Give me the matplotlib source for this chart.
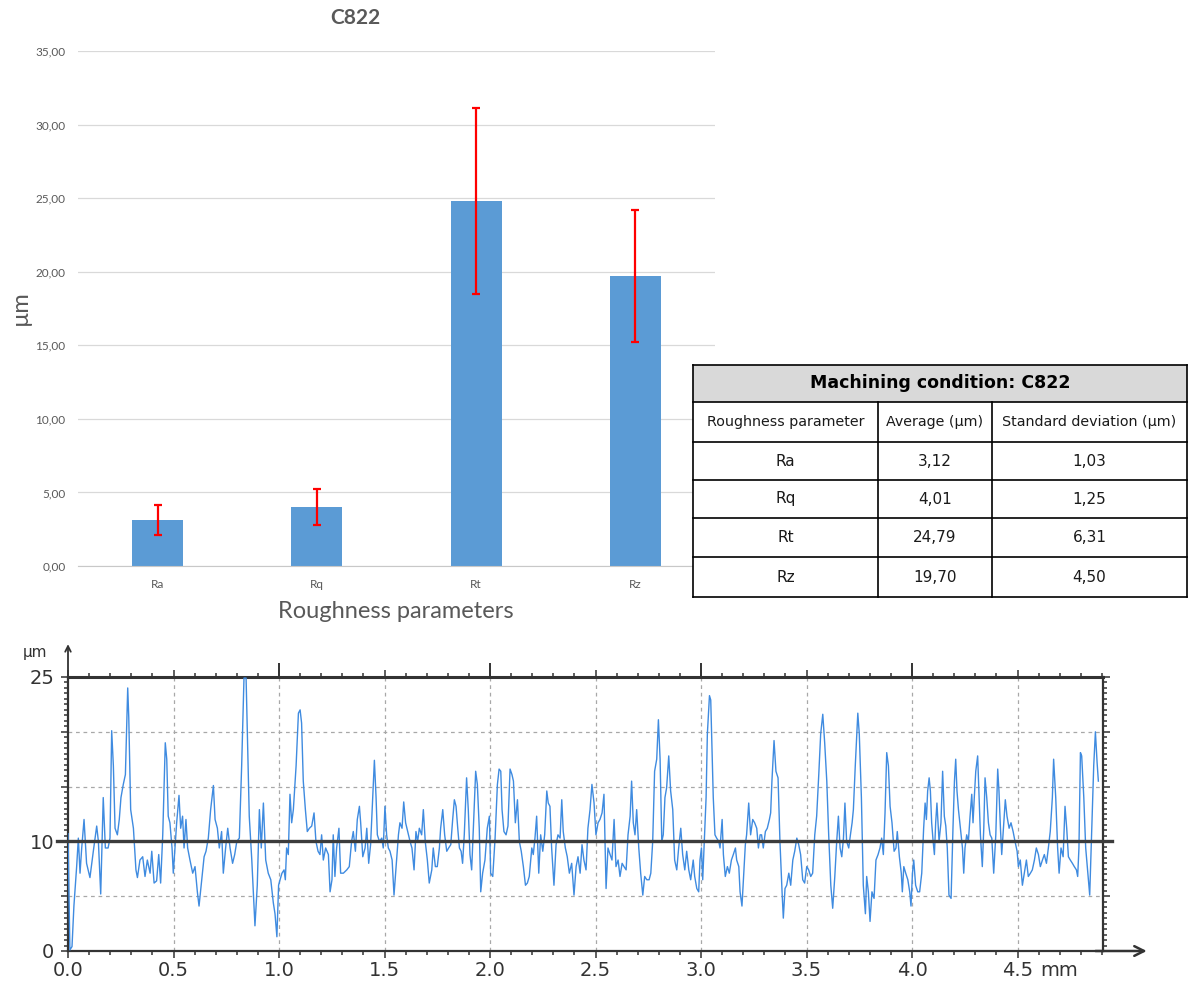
import numpy as np
import matplotlib
matplotlib.use('Agg')
from matplotlib import pyplot as plt
from matplotlib.patches import Rectangle
from matplotlib.ticker import MultipleLocator, FixedLocator, FixedFormatter

# summary statistics, machining condition C822
params = ['Ra', 'Rq', 'Rt', 'Rz']
avg_um = [3.12, 4.01, 24.79, 19.70]
std_um = [1.03, 1.25, 6.31, 4.50]
condition = 'C822'

# roughness profile, (mm, um), split by 1 mm stretches
prof_0 = [(0.0, 10.7), (0.009, 0.1), (0.019, 0.4), (0.028, 4.1), (0.041, 7.7), (0.049, 10.3),
          (0.057, 7.1), (0.065, 9.4), (0.076, 12.0), (0.088, 8.0), (0.104, 6.7), (0.120, 9.1),
          (0.136, 11.4), (0.144, 10.0), (0.155, 5.2), (0.167, 14.0), (0.177, 9.4), (0.190, 9.4),
          (0.199, 10.3), (0.207, 20.1), (0.215, 16.9), (0.223, 11.2), (0.234, 10.6), (0.243, 12.0),
          (0.251, 14.0), (0.262, 15.2), (0.272, 16.1), (0.283, 24.0), (0.288, 21.3), (0.297, 12.9),
          (0.310, 11.2), (0.322, 7.4), (0.329, 6.7), (0.341, 8.3), (0.354, 8.6), (0.365, 6.8),
          (0.376, 8.3), (0.389, 7.1), (0.397, 9.1), (0.408, 6.2), (0.420, 6.4), (0.430, 8.8),
          (0.439, 6.2), (0.449, 10.6), (0.461, 19.0), (0.468, 17.5), (0.475, 12.3), (0.483, 11.7),
          (0.493, 9.4), (0.499, 7.1), (0.507, 9.4), (0.515, 11.7), (0.526, 14.2), (0.534, 11.2),
          (0.543, 12.3), (0.550, 9.4), (0.559, 12.0), (0.567, 9.4), (0.578, 8.3), (0.591, 7.1),
          (0.602, 7.7), (0.613, 5.4), (0.621, 4.1), (0.634, 6.5), (0.645, 8.6), (0.654, 9.1),
          (0.665, 10.3), (0.676, 12.9), (0.689, 15.1), (0.697, 12.0), (0.708, 11.2), (0.717, 9.4),
          (0.728, 10.9), (0.736, 7.1), (0.747, 9.4), (0.757, 11.2), (0.768, 9.4), (0.780, 8.0),
          (0.790, 8.8), (0.800, 10.0), (0.812, 10.3), (0.823, 16.9), (0.834, 24.9), (0.844, 24.9),
          (0.850, 19.8), (0.859, 12.3), (0.871, 8.3), (0.878, 5.4), (0.886, 2.3), (0.897, 6.0),
          (0.907, 12.9), (0.916, 9.4), (0.926, 13.5), (0.937, 8.3), (0.949, 7.1), (0.961, 6.5),
          (0.973, 4.4), (0.981, 3.4), (0.990, 1.3), (0.998, 6.0)]
prof_1 = [(1.005, 6.5), (1.014, 7.1), (1.024, 7.4), (1.030, 6.5), (1.036, 9.4), (1.044, 8.8),
          (1.052, 14.3), (1.060, 11.7), (1.068, 12.9), (1.081, 16.9), (1.092, 21.7), (1.100, 22.0),
          (1.107, 20.8), (1.115, 15.5), (1.125, 12.9), (1.134, 10.9), (1.144, 11.2), (1.155, 11.4),
          (1.166, 12.6), (1.175, 10.0), (1.185, 9.1), (1.194, 8.8), (1.202, 10.6), (1.210, 8.3),
          (1.221, 9.4), (1.234, 8.8), (1.242, 5.4), (1.251, 6.5), (1.257, 10.6), (1.265, 6.8),
          (1.273, 9.4), (1.284, 11.2), (1.292, 7.1), (1.305, 7.1), (1.321, 7.4), (1.333, 7.7),
          (1.344, 10.0), (1.352, 10.9), (1.362, 9.1), (1.371, 12.0), (1.381, 13.2), (1.387, 11.7),
          (1.397, 8.6), (1.408, 9.4), (1.416, 11.2), (1.425, 8.0), (1.434, 9.7), (1.444, 14.0),
          (1.452, 17.4), (1.460, 14.0), (1.466, 10.6), (1.476, 10.0), (1.487, 10.3), (1.494, 9.4),
          (1.502, 13.2), (1.510, 10.6), (1.518, 9.4), (1.526, 9.1), (1.536, 8.3), (1.545, 5.1),
          (1.555, 7.7), (1.566, 10.6), (1.573, 11.7), (1.583, 11.2), (1.591, 13.6), (1.600, 11.7),
          (1.610, 10.9), (1.621, 10.0), (1.630, 9.4), (1.640, 7.4), (1.649, 10.9), (1.657, 10.0),
          (1.665, 11.2), (1.676, 10.6), (1.684, 12.9), (1.693, 10.0), (1.703, 8.3), (1.712, 6.2),
          (1.724, 7.4), (1.731, 9.4), (1.741, 7.7), (1.750, 7.7), (1.760, 9.4), (1.766, 11.2),
          (1.776, 12.9), (1.785, 10.6), (1.795, 9.1), (1.804, 9.4), (1.814, 9.7), (1.823, 12.0),
          (1.831, 13.8), (1.839, 13.2), (1.847, 11.2), (1.855, 9.4), (1.863, 9.1), (1.870, 8.0),
          (1.878, 10.6), (1.889, 15.8), (1.897, 12.9), (1.905, 8.8), (1.913, 7.4), (1.921, 11.2),
          (1.932, 16.4), (1.940, 15.2), (1.949, 11.2), (1.956, 5.4), (1.965, 7.1), (1.976, 8.3),
          (1.987, 11.2), (1.997, 12.3)]
prof_2 = [(2.003, 7.1), (2.013, 6.8), (2.024, 10.3), (2.035, 15.2), (2.043, 16.6), (2.051, 16.4),
          (2.057, 12.9), (2.066, 10.9), (2.076, 10.6), (2.085, 11.4), (2.095, 16.6), (2.104, 16.1),
          (2.111, 15.5), (2.120, 11.7), (2.130, 13.8), (2.139, 10.0), (2.148, 9.1), (2.158, 7.7),
          (2.168, 6.0), (2.177, 6.2), (2.186, 6.8), (2.198, 9.4), (2.205, 8.8), (2.213, 10.3),
          (2.221, 12.3), (2.231, 7.1), (2.240, 10.6), (2.250, 9.1), (2.259, 10.6), (2.269, 14.6),
          (2.276, 13.5), (2.284, 13.2), (2.292, 9.4), (2.303, 6.0), (2.313, 9.7), (2.322, 10.6),
          (2.332, 10.3), (2.340, 13.8), (2.347, 10.9), (2.357, 9.4), (2.366, 8.6), (2.376, 7.1),
          (2.387, 8.0), (2.398, 5.1), (2.408, 7.7), (2.417, 8.6), (2.427, 7.1), (2.436, 9.7),
          (2.445, 8.3), (2.455, 7.4), (2.464, 11.2), (2.474, 12.9), (2.483, 15.2), (2.493, 13.5),
          (2.502, 10.6), (2.512, 11.7), (2.521, 12.0), (2.531, 12.6), (2.540, 14.3), (2.550, 5.7),
          (2.559, 9.4), (2.569, 8.8), (2.578, 8.3), (2.588, 12.0), (2.597, 7.7), (2.607, 8.3),
          (2.616, 6.8), (2.626, 8.0), (2.635, 7.7), (2.645, 7.4), (2.654, 10.6), (2.664, 12.3),
          (2.671, 15.5), (2.679, 11.7), (2.687, 10.6), (2.695, 12.9), (2.705, 9.4), (2.714, 7.1),
          (2.724, 5.1), (2.733, 6.8), (2.743, 6.5), (2.754, 6.5), (2.762, 7.1), (2.771, 10.0),
          (2.780, 16.4), (2.790, 17.5), (2.798, 21.1), (2.806, 17.5), (2.814, 10.0), (2.821, 10.6),
          (2.829, 14.0), (2.837, 14.9), (2.847, 17.8), (2.856, 14.6), (2.866, 12.9), (2.875, 8.3),
          (2.885, 7.4), (2.894, 9.4), (2.904, 11.2), (2.913, 8.8), (2.923, 7.4), (2.932, 9.1),
          (2.942, 7.4), (2.951, 6.5), (2.963, 8.3), (2.970, 6.8), (2.980, 5.7), (2.989, 5.4),
          (2.995, 8.3)]
prof_3 = [(3.002, 9.4), (3.008, 6.5), (3.014, 9.4), (3.024, 14.0), (3.030, 19.8), (3.040, 23.3),
          (3.046, 22.9), (3.052, 18.4), (3.058, 14.0), (3.066, 10.6), (3.074, 10.3), (3.084, 10.0),
          (3.090, 9.4), (3.100, 12.0), (3.106, 8.8), (3.115, 6.8), (3.125, 7.7), (3.134, 7.1),
          (3.144, 8.3), (3.153, 8.8), (3.163, 9.4), (3.169, 8.3), (3.179, 7.7), (3.185, 5.4),
          (3.194, 4.1), (3.204, 7.7), (3.210, 9.7), (3.216, 10.6), (3.226, 13.5), (3.235, 10.6),
          (3.245, 12.0), (3.254, 11.7), (3.264, 11.2), (3.272, 9.4), (3.280, 10.6), (3.287, 10.6),
          (3.295, 9.4), (3.305, 10.9), (3.314, 11.2), (3.324, 12.0), (3.330, 12.6), (3.336, 15.5),
          (3.346, 19.2), (3.355, 16.4), (3.365, 15.8), (3.374, 10.0), (3.384, 5.4), (3.390, 3.0),
          (3.398, 5.7), (3.406, 6.0), (3.416, 7.1), (3.425, 6.0), (3.435, 8.3), (3.444, 9.1),
          (3.454, 10.3), (3.463, 9.7), (3.472, 8.8), (3.482, 6.5), (3.491, 6.2), (3.501, 7.7),
          (3.510, 7.4), (3.520, 6.8), (3.529, 7.1), (3.539, 10.6), (3.548, 12.3), (3.558, 16.1),
          (3.567, 19.8), (3.577, 21.6), (3.586, 19.0), (3.596, 15.5), (3.605, 10.6), (3.615, 6.0),
          (3.624, 3.9), (3.634, 6.8), (3.643, 10.0), (3.651, 12.3), (3.659, 9.4), (3.667, 8.6),
          (3.675, 10.3), (3.682, 13.5), (3.690, 10.0), (3.700, 9.4), (3.708, 10.6), (3.716, 11.7),
          (3.722, 12.9), (3.731, 16.9), (3.743, 21.7), (3.750, 19.8), (3.760, 14.0), (3.769, 6.0),
          (3.779, 3.4), (3.785, 6.8), (3.793, 5.4), (3.801, 2.7), (3.810, 5.4), (3.820, 4.8),
          (3.829, 8.3), (3.839, 8.8), (3.848, 9.4), (3.856, 10.3), (3.864, 8.8), (3.872, 12.6),
          (3.880, 18.1), (3.888, 16.9), (3.896, 13.2), (3.905, 11.7), (3.915, 9.1), (3.924, 9.4),
          (3.930, 10.9), (3.940, 8.6), (3.949, 7.1), (3.954, 5.4), (3.961, 7.7), (3.970, 7.1),
          (3.980, 6.5), (3.989, 5.4), (3.995, 4.1)]
prof_4 = [(4.002, 7.1), (4.008, 8.3), (4.017, 6.0), (4.027, 5.4), (4.036, 5.4), (4.046, 7.1),
          (4.055, 11.2), (4.062, 13.5), (4.068, 12.0), (4.074, 14.6), (4.081, 15.8), (4.087, 14.6),
          (4.093, 11.7), (4.100, 10.0), (4.106, 8.8), (4.112, 11.7), (4.118, 13.5), (4.128, 10.0),
          (4.137, 11.7), (4.145, 16.4), (4.153, 12.3), (4.160, 11.4), (4.167, 9.4), (4.175, 5.1),
          (4.185, 4.8), (4.194, 11.2), (4.201, 15.5), (4.207, 17.5), (4.213, 14.6), (4.220, 12.9),
          (4.229, 11.2), (4.239, 9.4), (4.245, 7.1), (4.251, 9.4), (4.259, 10.6), (4.267, 10.0),
          (4.275, 12.3), (4.283, 14.3), (4.289, 11.7), (4.295, 14.0), (4.302, 16.4), (4.311, 17.8),
          (4.318, 14.0), (4.324, 10.6), (4.333, 7.7), (4.340, 11.2), (4.346, 15.8), (4.354, 14.0),
          (4.362, 11.7), (4.370, 10.6), (4.378, 10.3), (4.387, 7.1), (4.397, 10.6), (4.406, 16.6),
          (4.412, 14.6), (4.419, 11.2), (4.425, 8.8), (4.435, 11.7), (4.442, 13.8), (4.450, 12.3),
          (4.460, 11.2), (4.469, 11.7), (4.479, 10.9), (4.488, 10.0), (4.498, 9.1), (4.504, 7.7),
          (4.513, 8.3), (4.523, 6.0), (4.532, 7.1), (4.542, 8.3), (4.551, 6.8), (4.561, 7.1),
          (4.570, 7.4), (4.580, 8.3), (4.589, 9.4), (4.599, 8.8), (4.608, 7.7), (4.618, 8.3),
          (4.627, 8.8), (4.637, 8.0), (4.646, 9.4), (4.655, 10.9), (4.665, 14.0), (4.671, 17.5),
          (4.681, 14.0), (4.690, 9.4), (4.697, 7.1), (4.706, 9.4), (4.716, 8.6), (4.725, 13.2),
          (4.733, 11.2), (4.741, 8.6), (4.750, 8.3), (4.760, 8.0), (4.769, 7.7), (4.779, 7.4),
          (4.785, 6.8), (4.791, 9.4), (4.798, 18.1), (4.804, 17.8), (4.814, 14.0), (4.823, 9.4),
          (4.833, 7.1), (4.842, 5.1), (4.852, 11.2), (4.861, 16.9), (4.869, 20.0), (4.877, 17.2),
          (4.883, 15.5)]

profile = prof_0 + prof_1 + prof_2 + prof_3 + prof_4
prof_mm = [p[0] for p in profile]
prof_um = [p[1] for p in profile]


def comma(v):
    return f"{v:.2f}".replace('.', ',')


W, H = 1189, 990
fig = plt.figure(figsize=(W / 100, H / 100), dpi=100)


def box(l, t, r, b):
    # pixel box of the reference -> figure fraction rect
    return [l / W, 1 - b / H, (r - l) / W, (b - t) / H]


gray = '#595959'
xl_font = 'Lato'

# ---- bar chart with error bars ----
ax1 = fig.add_axes(box(78, 51, 715, 566))
x = np.arange(len(params))
ax1.bar(x, avg_um, width=0.32, color='#5b9bd5', zorder=2)
ax1.errorbar(x, avg_um, yerr=std_um, fmt='none', ecolor='#ff0000',
             elinewidth=1.6, capsize=3, capthick=1.6, zorder=3)
ax1.set_xlim(-0.5, 3.5)
ax1.set_ylim(0, 35)
ax1.set_xticks(x)
ax1.set_xticklabels(params, fontsize=8.5, color=gray, family=xl_font)
yt = np.arange(0, 36, 5)
ax1.set_yticks(yt)
ax1.set_yticklabels([comma(v) for v in yt], fontsize=8.5, color=gray, family=xl_font)
ax1.tick_params(length=0, pad=9)
ax1.grid(axis='y', color='#d9d9d9', lw=0.9)
ax1.set_axisbelow(True)
for s in ['top', 'right', 'left']:
    ax1.spines[s].set_visible(False)
ax1.spines['bottom'].set_color('#c8c8c8')

fig.text(355 / W, 1 - 18 / H, condition, fontsize=15, fontweight='bold',
         color=gray, ha='center', va='center', family=xl_font)
fig.text(396 / W, 1 - 612 / H, 'Roughness parameters', fontsize=17,
         color=gray, ha='center', va='center', family=xl_font)
fig.text(20 / W, 1 - 308 / H, 'µm', fontsize=17, rotation=90,
         color=gray, ha='center', va='center', family=xl_font)

# ---- summary table ----
ax3 = fig.add_axes(box(693, 365, 1187, 597))
tw, th = 494, 232
ax3.set_xlim(0, tw)
ax3.set_ylim(th, 0)
ax3.axis('off')
row_edges = [0, 37, 77, 115, 153, 192, 232]
col_edges = [0, 185, 299, 494]
ax3.add_patch(Rectangle((0, 0), tw, th, facecolor='white', edgecolor='none'))
ax3.add_patch(Rectangle((0, 0), tw, row_edges[1], facecolor='#d9d9d9', edgecolor='none'))
for r in row_edges:
    ax3.plot([0, tw], [r, r], color='black', lw=1.2, clip_on=False)
for c in col_edges:
    top = 0 if c in (0, tw) else row_edges[1]
    ax3.plot([c, c], [top, th], color='black', lw=1.2, clip_on=False)

ax3.text(tw / 2, row_edges[1] / 2, f'Machining condition: {condition}', ha='center',
         va='center', fontsize=12.5, fontweight='heavy', family='DejaVu Sans')
col_titles = ['Roughness parameter', 'Average (µm)', 'Standard deviation (µm)']
for i, t in enumerate(col_titles):
    ax3.text((col_edges[i] + col_edges[i + 1]) / 2, (row_edges[1] + row_edges[2]) / 2, t,
             ha='center', va='center', fontsize=10.3, color='#1a1a1a')
for j, p in enumerate(params):
    yc = (row_edges[j + 2] + row_edges[j + 3]) / 2
    cells = [p, comma(avg_um[j]), comma(std_um[j])]
    for i, t in enumerate(cells):
        ax3.text((col_edges[i] + col_edges[i + 1]) / 2, yc, t,
                 ha='center', va='center', fontsize=11, color='#1a1a1a')

# ---- surface profile ----
ax2 = fig.add_axes(box(68, 677, 1103, 951))
ink = '#333333'
ax2.plot(prof_mm, prof_um, color='#3f8be0', lw=1.0, zorder=3)
ax2.set_xlim(0, 4.905)
ax2.set_ylim(0, 25)

for xv in np.arange(0.5, 4.6, 0.5):
    ax2.axvline(xv, color='#a8a8a8', ls=(0, (3, 3)), lw=0.9, zorder=1)
for yv in (5, 15, 20):
    ax2.axhline(yv, color='#a8a8a8', ls=(0, (3, 3)), lw=0.9, zorder=1)
ax2.plot([-0.05, 4.95], [10, 10], color='#3c3c3c', lw=2.4, zorder=4, clip_on=False)

for s in ax2.spines.values():
    s.set_color(ink)
    s.set_linewidth(1.6)
ax2.spines['top'].set_linewidth(2.2)

ax2.xaxis.set_major_locator(MultipleLocator(0.5))
ax2.xaxis.set_minor_locator(MultipleLocator(0.1))
ax2.xaxis.set_major_formatter(plt.FuncFormatter(lambda v, pos: f"{v:.1f}"))
ax2.yaxis.set_major_locator(FixedLocator([0, 5, 10, 15, 20, 25]))
ax2.yaxis.set_major_formatter(FixedFormatter(['0', '', '10', '', '', '25']))
ax2.yaxis.set_minor_locator(MultipleLocator(0.5))
ax2.tick_params(which='both', direction='out', color=ink, width=1.1,
                top=True, right=True, labelsize=14, labelcolor=ink)
ax2.tick_params(which='major', length=5)
ax2.tick_params(which='minor', length=3)
ax2.tick_params(axis='x', pad=2)
ax2.tick_params(axis='y', pad=5)

top_ax = ax2.secondary_xaxis('top')
top_ax.set_xticks([1, 2, 3, 4])
top_ax.tick_params(direction='out', length=10, width=1.4, color=ink, labeltop=False)
top_ax.spines['top'].set_visible(False)

ax2.annotate('', xy=(1.045, 0), xytext=(0.99, 0), xycoords='axes fraction',
             arrowprops=dict(arrowstyle='->,head_length=0.7,head_width=0.35', color=ink, lw=1.8))
ax2.annotate('', xy=(0, 1.13), xytext=(0, 0.99), xycoords='axes fraction',
             arrowprops=dict(arrowstyle='->,head_length=0.4,head_width=0.2', color=ink, lw=1.3))
fig.text(35 / W, 1 - 652 / H, 'µm', fontsize=11, color=ink, ha='center', va='center')
fig.text(1040 / W, 1 - 971 / H, 'mm', fontsize=14, color=ink, ha='left', va='center')

fig.savefig('out.png', dpi=100)
